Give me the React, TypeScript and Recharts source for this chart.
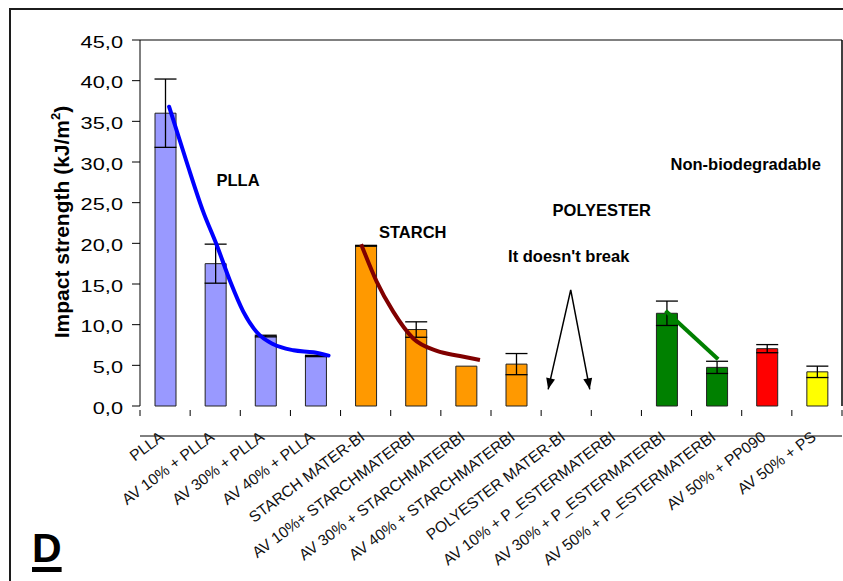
import React from 'react';
import {
  ComposedChart,
  Bar,
  Cell,
  ErrorBar,
  Line,
  XAxis,
  YAxis,
  ReferenceLine,
  ReferenceDot,
} from 'recharts';

const categories = [
  'PLLA',
  'AV 10% + PLLA',
  'AV 30% + PLLA',
  'AV 40% + PLLA',
  'STARCH MATER-BI',
  'AV 10%+ STARCHMATERBI',
  'AV 30% + STARCHMATERBI',
  'AV 40% + STARCHMATERBI',
  'POLYESTER MATER-BI',
  'AV 10% + P_ESTERMATERBI',
  'AV 30% + P_ESTERMATERBI',
  'AV 50% + P_ESTERMATERBI',
  'AV 50% + PP090',
  'AV 50% + PS',
];
const strength = [36.0, 17.5, 8.6, 6.15, 19.7, 9.4, 4.9, 5.15, null, null, 11.4, 4.75, 7.05, 4.2];
const errors = [4.2, 2.4, 0.1, 0.08, 0.05, 0.95, null, 1.3, null, null, 1.5, 0.75, 0.5, 0.7];
const barColors = [
  '#9999FF', '#9999FF', '#9999FF', '#9999FF',
  '#FF9900', '#FF9900', '#FF9900', '#FF9900',
  '#008000', '#008000', '#008000', '#008000',
  '#FF0000', '#FFFF00',
];
const yTicks = [0, 5, 10, 15, 20, 25, 30, 35, 40, 45];

// trend curves drawn over the bars (x in category units, 0..14)
const pllaCurveX = [0.58, 0.93, 1.26, 1.53, 1.8, 2.06, 2.33, 2.66, 3.06, 3.46, 3.76];
const pllaCurveY = [36.8, 30.0, 23.9, 19.8, 15.3, 11.6, 9.06, 7.58, 6.85, 6.6, 6.2];
const starchCurveX = [4.41, 4.72, 5.05, 5.45, 5.92, 6.38, 6.78];
const starchCurveY = [19.9, 15.3, 11.6, 8.3, 6.77, 6.15, 5.65];
const polyCurveX = [10.48, 11.53];
const polyCurveY = [11.7, 5.75];
const arrowX = [8.14, 8.59, 8.97];
const arrowY = [2.05, 14.27, 2.05];

const numTicks = Array.from({ length: 29 }, (_, i) => i / 2);

const fmt = (v: number) => v.toFixed(1).replace('.', ',');

const YTick = (props: any) => {
  const { x, y, payload } = props;
  return (
    <text
      x={0}
      y={0}
      transform={`translate(${x},${y + 7.5}) scale(1.32,1)`}
      textAnchor="end"
      fontSize={16.5}
      fill="#000"
    >
      {fmt(payload.value)}
    </text>
  );
};

// tick y arrives ~26px under the axis line, pull it back up
const XTick = (props: any) => {
  const { x, y, payload } = props;
  const base = y - 26;
  const v = payload.value;
  if (Number.isInteger(v)) {
    return <line x1={x} x2={x} y1={base} y2={base + 6} stroke="#000" strokeWidth={1} />;
  }
  const ty = base + 29;
  return (
    <text
      x={x}
      y={ty}
      textAnchor="end"
      transform={`rotate(-37, ${x}, ${ty})`}
      fontSize={15.5}
      fill="#111"
    >
      {categories[Math.floor(v)]}
    </text>
  );
};

const YTitle = (props: any) => {
  const vb = props.viewBox || { x: 0, y: 40, height: 366 };
  const cx = vb.x + 69;
  const cy = vb.y + vb.height / 2 - 1;
  return (
    <text
      x={cx}
      y={cy}
      transform={`rotate(-90, ${cx}, ${cy})`}
      textAnchor="middle"
      fontSize={21}
      fontWeight="bold"
      fill="#000"
    >
      <tspan>Impact strength (kJ/m</tspan>
      <tspan fontSize={13} dy={-9}>2</tspan>
      <tspan dy={9}>)</tspan>
    </text>
  );
};

const ArrowHead = (props: any) => {
  const { cx, cy, index, points } = props;
  if (index === 1) return <g key={`ah-${index}`} />;
  const apex = points && points[1] ? points[1] : { x: cx, y: cy - 100 };
  let dx = cx - apex.x;
  let dy = cy - apex.y;
  const len = Math.sqrt(dx * dx + dy * dy) || 1;
  dx /= len;
  dy /= len;
  const bx = cx - dx * 11;
  const by = cy - dy * 11;
  const px = -dy * 4.5;
  const py = dx * 4.5;
  return (
    <polygon
      key={`ah-${index}`}
      points={`${cx},${cy} ${bx + px},${by + py} ${bx - px},${by - py}`}
      fill="#000"
      stroke="none"
    />
  );
};

const labelStyle = { fill: '#000', fontSize: 16.5, fontWeight: 'bold', position: 'center' as const };

export default function App() {
  const table = categories.map((name, i) => ({ name, strength: strength[i], err: errors[i] }));
  const pllaCurve = pllaCurveX.map((x, i) => ({ x, y: pllaCurveY[i] }));
  const starchCurve = starchCurveX.map((x, i) => ({ x, y: starchCurveY[i] }));
  const polyCurve = polyCurveX.map((x, i) => ({ x, y: polyCurveY[i] }));
  const arrow = arrowX.map((x, i) => ({ x, y: arrowY[i] }));

  return (
    <div
      style={{
        position: 'absolute',
        left: 0,
        top: 0,
        width: 843,
        height: 581,
        overflow: 'hidden',
        background: '#fff',
        fontFamily: '"Liberation Sans", Arial, sans-serif',
      }}
    >
      <div
        style={{
          position: 'absolute',
          left: 9,
          top: 8,
          width: 900,
          height: 700,
          borderLeft: '2px solid #1c1c1c',
          borderTop: '2px solid #1c1c1c',
        }}
      />
      <div style={{ position: 'absolute', left: 0, top: 0 }}>
        <ComposedChart width={843} height={581} data={table} margin={{ top: 40, right: 1, bottom: 0, left: 0 }}>
          <XAxis dataKey="name" hide />
          <XAxis
            xAxisId="num"
            type="number"
            dataKey="x"
            domain={[0, 14]}
            ticks={numTicks}
            interval={0}
            tickLine={false}
            tickSize={0}
            tickMargin={0}
            height={175}
            axisLine={{ stroke: '#000' }}
            tick={<XTick />}
            allowDataOverflow
          />
          <YAxis
            domain={[0, 45]}
            ticks={yTicks}
            interval={0}
            width={140}
            tickSize={8}
            tickMargin={9}
            tick={<YTick />}
            axisLine={{ stroke: '#000' }}
            tickLine={{ stroke: '#000' }}
            label={<YTitle />}
          />
          <ReferenceLine y={45} stroke="#808080" strokeWidth={2} />
          <ReferenceLine x={14} xAxisId="num" stroke="#000" strokeWidth={1.5} />
          <Bar dataKey="strength" barSize={21} stroke="#222" strokeWidth={1} isAnimationActive={false}>
            {table.map((d, i) => (
              <Cell key={d.name} fill={barColors[i]} />
            ))}
            <ErrorBar dataKey="err" width={11} stroke="#000" strokeWidth={1.3} />
          </Bar>
          <Line
            xAxisId="num"
            data={pllaCurve}
            dataKey="y"
            type="monotone"
            stroke="#0000FF"
            strokeWidth={4}
            strokeLinecap="round"
            dot={false}
            activeDot={false}
            isAnimationActive={false}
          />
          <Line
            xAxisId="num"
            data={starchCurve}
            dataKey="y"
            type="monotone"
            stroke="#800000"
            strokeWidth={4}
            dot={false}
            activeDot={false}
            isAnimationActive={false}
          />
          <Line
            xAxisId="num"
            data={polyCurve}
            dataKey="y"
            type="linear"
            stroke="#008000"
            strokeWidth={4}
            dot={false}
            activeDot={false}
            isAnimationActive={false}
          />
          <Line
            xAxisId="num"
            data={arrow}
            dataKey="y"
            type="linear"
            stroke="#000"
            strokeWidth={1.5}
            dot={ArrowHead}
            activeDot={false}
            isAnimationActive={false}
          />
          <ReferenceDot xAxisId="num" x={1.955} y={27.8} r={0} fill="none" stroke="none" label={{ value: 'PLLA', ...labelStyle }} />
          <ReferenceDot xAxisId="num" x={5.44} y={21.4} r={0} fill="none" stroke="none" label={{ value: 'STARCH', ...labelStyle }} />
          <ReferenceDot xAxisId="num" x={9.21} y={24.1} r={0} fill="none" stroke="none" label={{ value: 'POLYESTER', ...labelStyle }} />
          <ReferenceDot xAxisId="num" x={8.55} y={18.45} r={0} fill="none" stroke="none" label={{ value: "It doesn't break", ...labelStyle }} />
          <ReferenceDot xAxisId="num" x={12.08} y={29.75} r={0} fill="none" stroke="none" label={{ value: 'Non-biodegradable', ...labelStyle }} />
        </ComposedChart>
      </div>
      <div
        style={{
          position: 'absolute',
          left: 32,
          top: 528,
          fontSize: 41,
          lineHeight: 1,
          fontWeight: 'bold',
          color: '#000',
          textDecoration: 'underline',
          textDecorationThickness: '5px',
          textUnderlineOffset: '5px',
        }}
      >
        D
      </div>
    </div>
  );
}
